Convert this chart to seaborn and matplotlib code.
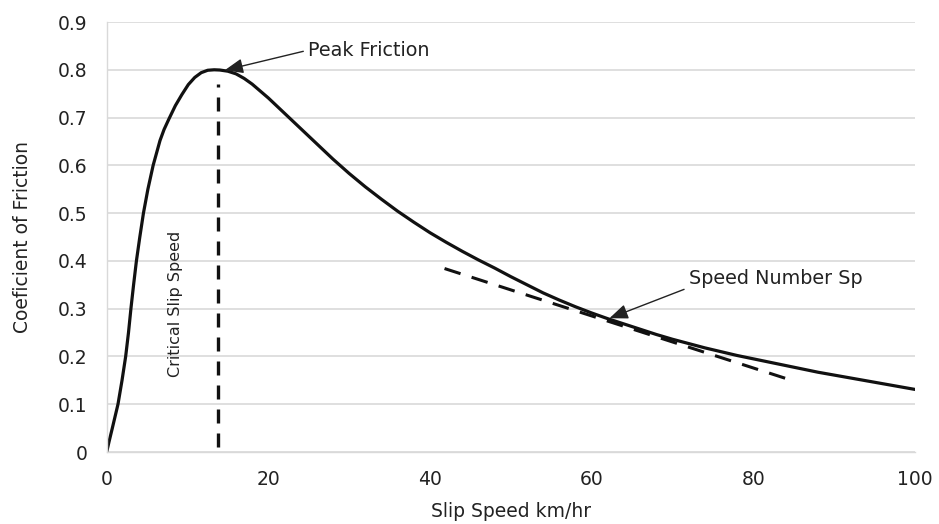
import matplotlib
matplotlib.use("Agg")
import matplotlib.pyplot as plt
import seaborn as sns
import pandas as pd
from matplotlib import font_manager

# friction curve
slip_speed = [0, 0.3, 0.7, 1.4, 1.9, 2.35, 2.7, 3.0, 3.33, 3.68, 4.1, 4.55, 5.1, 5.75, 6.6,
              7.1, 7.7, 8.5, 9.3, 10.1, 10.9, 11.7, 12.5, 13.3, 14.0, 15.0, 16.0, 17.0,
              18.0, 20.0, 22.0, 24.0, 26.0, 28.0, 30.0, 32.0, 34.0, 36.0, 38.0, 40.0,
              42.0, 44.0, 46.0, 48.0, 50.0, 52.0, 54.0, 56.0, 58.0, 60.0, 62.0, 64.0,
              66.0, 68.0, 70.0, 72.0, 74.0, 76.0, 78.0, 80.0, 82.0, 84.0, 86.0, 88.0,
              90.0, 92.0, 94.0, 96.0, 98.0, 100.0]
friction = [0, 0.022, 0.050, 0.100, 0.150, 0.200, 0.250, 0.300, 0.350, 0.400, 0.450, 0.500,
            0.550, 0.600, 0.652, 0.675, 0.697, 0.725, 0.748, 0.769, 0.784, 0.794, 0.799,
            0.800, 0.7995, 0.797, 0.7915, 0.782, 0.770, 0.741, 0.709, 0.677, 0.645, 0.613,
            0.583, 0.555, 0.529, 0.504, 0.481, 0.459, 0.439, 0.420, 0.402, 0.385, 0.367,
            0.350, 0.333, 0.318, 0.304, 0.291, 0.279, 0.268, 0.257, 0.246, 0.236, 0.227,
            0.218, 0.210, 0.202, 0.195, 0.188, 0.181, 0.174, 0.167, 0.161, 0.155, 0.149,
            0.143, 0.137, 0.131]

# critical slip speed marker and tangent at the speed number point
critical_x = [13.8, 13.8]
critical_y = [0.01, 0.77]
tangent_x = [41.8, 85.3]
tangent_y = [0.384, 0.147]

peak_point = (14.6, 0.799)
sp_point = (62.2, 0.280)

x_ticks = [0, 20, 40, 60, 80, 100]
y_ticks = [0, 0.1, 0.2, 0.3, 0.4, 0.5, 0.6, 0.7, 0.8, 0.9]
y_tick_labels = ["0", "0.1", "0.2", "0.3", "0.4", "0.5", "0.6", "0.7", "0.8", "0.9"]

sns.set_style("white")
plt.rcParams["font.family"] = ["DejaVu Sans"]

GRID = "#d9d9d9"
TEXT = "#222222"
INK = "#111111"

fig = plt.figure(figsize=(9.39, 5.24), dpi=100)
ax = fig.add_axes([0.1136, 0.1374, 0.8608, 0.8206])

df = pd.DataFrame({"speed": slip_speed, "mu": friction})
sns.lineplot(data=df, x="speed", y="mu", ax=ax, color=INK, linewidth=2.3, estimator=None)
sns.lineplot(x=critical_x, y=critical_y, ax=ax, color=INK, linewidth=2.4,
             estimator=None, linestyle=(0, (4.2, 3.0)))
sns.lineplot(x=tangent_x, y=tangent_y, ax=ax, color=INK, linewidth=2.2,
             estimator=None, linestyle=(0, (5.5, 3.8)))

ax.set_xlim(0, 100)
ax.set_ylim(0, 0.9)
ax.set_xticks(x_ticks)
ax.set_yticks(y_ticks)
ax.set_yticklabels(y_tick_labels)
ax.grid(axis="y", color=GRID, linewidth=1.2)
ax.grid(axis="x", visible=False)
ax.tick_params(axis="both", colors=GRID, labelcolor=TEXT, labelsize=13.5, length=5, width=1)
ax.tick_params(axis="y", pad=9)
ax.tick_params(axis="x", pad=8)
for side in ["top", "right"]:
    ax.spines[side].set_visible(False)
for side in ["left", "bottom"]:
    ax.spines[side].set_color(GRID)
    ax.spines[side].set_linewidth(1)

ax.set_xlabel("Slip Speed km/hr", fontsize=13.5, color=TEXT, labelpad=9)
ax.set_ylabel("Coeficient of Friction", fontsize=13.5, color=TEXT, labelpad=18)

arrow = dict(arrowstyle="-|>,head_length=0.75,head_width=0.3", color=TEXT, lw=1,
             shrinkA=1, shrinkB=0, mutation_scale=15)
ax.annotate("Peak Friction", xy=peak_point, xytext=(24.9, 0.841), ha="left", va="center",
            fontsize=13.8, color=TEXT, arrowprops=dict(arrow, relpos=(0, 0.5)))
ax.annotate("Speed Number Sp", xy=sp_point, xytext=(72.0, 0.364), ha="left", va="center",
            fontsize=13.8, color=TEXT, arrowprops=dict(arrow, relpos=(0, 0)))

names = {f.name for f in font_manager.fontManager.ttflist}
if "Liberation Sans Narrow" in names:
    narrow, narrow_size = "Liberation Sans Narrow", 15
elif "DejaVu Sans Condensed" in names:
    narrow, narrow_size = "DejaVu Sans Condensed", 12.5
else:
    narrow, narrow_size = "DejaVu Sans", 11.5
ax.text(8.55, 0.31, "Critical Slip Speed", rotation=90, ha="center", va="center",
        fontsize=narrow_size, color=TEXT, family=[narrow])

fig.savefig("out.png", dpi=100)
